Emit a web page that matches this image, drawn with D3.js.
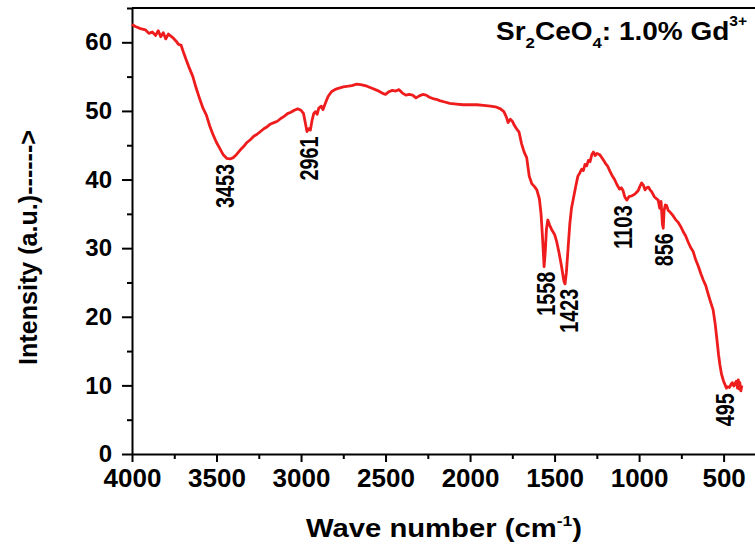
<!DOCTYPE html>
<html>
<head>
<meta charset="utf-8">
<script src="https://cdn.jsdelivr.net/npm/d3@7"></script>
<style>
  body { margin: 0; background: #fff; }
  svg { display: block; font-family: "Liberation Sans", Arial, sans-serif; font-weight: bold; }
  .tick text { font-family: "Liberation Sans", Arial, sans-serif; font-weight: bold; }
</style>
</head>
<body>
<svg width="755" height="545"></svg>
<script>
// FTIR spectrum
const waveNumber = [4000, 3980, 3950, 3920, 3900, 3880, 3860, 3845, 3830, 3815, 3800, 3785, 3770, 3755, 3740, 3725, 3710, 3695, 3680, 3660,
  3640, 3620, 3600, 3580, 3560, 3540, 3520, 3500, 3480, 3460, 3440, 3420, 3400, 3380, 3360, 3340, 3320, 3300, 3280, 3260,
  3240, 3220, 3200, 3180, 3160, 3140, 3120, 3100, 3080, 3060, 3040, 3020, 3000, 2985, 2975, 2965, 2955, 2945, 2935, 2925,
  2915, 2905, 2895, 2880, 2870, 2855, 2840, 2820, 2800, 2780, 2750, 2720, 2700, 2670, 2640, 2610, 2580, 2550, 2520, 2500,
  2480, 2460, 2440, 2420, 2400, 2380, 2360, 2340, 2320, 2300, 2280, 2260, 2240, 2220, 2200, 2180, 2150, 2120, 2080, 2040,
  2000, 1960, 1920, 1880, 1850, 1820, 1800, 1785, 1775, 1762, 1750, 1740, 1725, 1710, 1695, 1680, 1665, 1650, 1635, 1620,
  1605, 1590, 1580, 1570, 1562, 1555, 1548, 1540, 1530, 1515, 1500, 1488, 1475, 1460, 1445, 1438, 1430, 1420, 1410, 1400,
  1389, 1375, 1362, 1350, 1340, 1330, 1320, 1310, 1300, 1290, 1280, 1270, 1260, 1250, 1240, 1232, 1215, 1200, 1185, 1172,
  1160, 1145, 1130, 1115, 1105, 1095, 1085, 1073, 1060, 1045, 1030, 1020, 1005, 995, 985, 975, 965, 955, 945, 935,
  925, 910, 897, 887, 878, 870, 862, 857, 852, 845, 837, 828, 818, 808, 798, 785, 770, 755, 739, 725,
  710, 695, 680, 665, 650, 635, 621, 605, 590, 575, 562, 550, 540, 530, 522, 512, 500, 490, 483, 475,
  465, 455, 448, 440, 432, 425, 418, 413, 408, 404, 398, 392]
const intensity = [62.6, 62.3, 62.0, 61.8, 61.3, 61.5, 61.0, 61.7, 60.8, 61.4, 60.5, 61.2, 60.9, 60.6, 60.2, 59.7, 59.6, 58.5, 57.5, 56.2,
  55.0, 53.3, 51.8, 50.4, 49.4, 47.8, 46.5, 45.4, 44.5, 43.6, 43.1, 43.0, 43.2, 43.7, 44.3, 44.8, 45.4, 45.8, 46.3, 46.6,
  47.0, 47.4, 47.7, 48.1, 48.3, 48.5, 48.9, 49.2, 49.6, 49.8, 50.1, 50.3, 50.1, 49.6, 48.3, 47.0, 47.4, 47.2, 48.6, 49.6,
  49.9, 49.5, 50.4, 50.7, 50.2, 51.2, 52.1, 52.8, 53.1, 53.3, 53.5, 53.6, 53.7, 53.9, 53.8, 53.6, 53.3, 53.0, 52.6, 52.4,
  52.8, 53.0, 52.9, 53.1, 52.6, 52.3, 52.4, 52.3, 51.9, 52.2, 52.4, 52.3, 52.0, 51.8, 51.7, 51.5, 51.3, 51.1, 51.0, 50.9,
  50.9, 50.9, 50.8, 50.7, 50.6, 50.3, 49.9, 49.1, 48.3, 48.8, 48.5, 48.0, 47.4, 46.9, 45.2, 44.0, 43.2, 40.5, 39.4, 39.0,
  38.5, 37.2, 35.0, 31.0, 27.3, 29.5, 32.8, 34.1, 33.4, 32.6, 32.0, 31.0, 29.5, 27.5, 25.2, 24.8, 26.5, 30.0, 33.5, 35.8,
  37.2, 39.0, 40.5, 41.0, 41.5, 41.3, 42.2, 42.0, 42.8, 42.6, 43.6, 44.0, 43.5, 43.8, 43.7, 43.6, 43.0, 42.4, 41.9, 41.2,
  40.6, 40.0, 39.2, 38.6, 38.8, 38.4, 37.5, 37.0, 37.5, 37.6, 37.8, 38.0, 38.4, 39.0, 39.5, 39.2, 38.5, 38.8, 38.9, 38.5,
  38.2, 37.5, 37.2, 37.0, 35.8, 36.8, 33.5, 32.9, 35.5, 36.3, 36.2, 35.5, 35.3, 35.0, 34.7, 34.2, 33.8, 33.2, 32.4, 31.8,
  30.9, 30.1, 29.5, 28.3, 27.4, 26.3, 25.4, 24.5, 23.2, 22.0, 21.0, 19.0, 16.8, 14.5, 13.0, 11.6, 10.6, 10.0, 9.6, 9.8,
  9.7, 10.2, 10.4, 9.9, 10.3, 10.6, 9.6, 10.8, 9.5, 10.4, 9.2, 10.0]

const peakLabels = ["3453", "2961", "1558", "1423", "1103", "856", "495"]
const peakAt = [3453, 2961, 1558, 1423, 1103, 856, 495]
const peakTop = [43.0, 47.0, 27.3, 24.8, 37.0, 32.9, 9.6] // value under each label

const xTicks = [4000, 3500, 3000, 2500, 2000, 1500, 1000, 500]
const yTicks = [0, 10, 20, 30, 40, 50, 60]

const margin = { left: 132, top: 8 }
const height = 446
const pxPerUnit = 0.16903
const xMax = 4000, xMin = 300, yMax = 65

const svg = d3.select('svg')
const chart = svg.append('g')
  .attr('transform', `translate(${margin.left}, ${margin.top})`)

const xScale = d3.scaleLinear()
  .domain([xMax, xMin])
  .range([0, (xMax - xMin) * pxPerUnit])

const yScale = d3.scaleLinear()
  .domain([0, yMax])
  .range([height, 0])

const width = xScale.range()[1]

// frame top
chart.append('line')
  .attr('x1', 0).attr('x2', width)
  .attr('y1', 0).attr('y2', 0)
  .attr('stroke', '#000').attr('stroke-width', 2)

// minor ticks
chart.append('g')
  .attr('transform', `translate(0, ${height})`)
  .call(d3.axisBottom(xScale).tickValues(d3.range(3750, 0, -500)).tickSize(5).tickFormat(''))
  .call(g => g.select('.domain').remove())
chart.append('g')
  .call(d3.axisLeft(yScale).tickValues(d3.range(5, 66, 10)).tickSize(5).tickFormat(''))
  .call(g => g.select('.domain').remove())

const xAxis = chart.append('g')
  .attr('transform', `translate(0, ${height})`)
  .call(d3.axisBottom(xScale).tickValues(xTicks).tickFormat(d3.format('d'))
    .tickSize(8).tickSizeOuter(0).tickPadding(7))
xAxis.selectAll('text').style('font-size', '26px').attr('fill', '#000')

const yAxis = chart.append('g')
  .call(d3.axisLeft(yScale).tickValues(yTicks).tickSize(10).tickSizeOuter(0).tickPadding(10))
yAxis.selectAll('text').style('font-size', '24px').attr('fill', '#000')

chart.selectAll('.tick line').attr('stroke-width', 2)
chart.selectAll('.domain').attr('stroke-width', 2)

// spectrum
const points = waveNumber.map((w, i) => [w, intensity[i]])
chart.append('path')
  .datum(points)
  .attr('fill', 'none')
  .attr('stroke', '#ee1c1c')
  .attr('stroke-width', 2.8)
  .attr('stroke-linejoin', 'round')
  .attr('d', d3.line().x(d => xScale(d[0])).y(d => yScale(d[1])))

// peak labels, rotated (glyphs look condensed in the picture)
chart.selectAll('.peak')
  .data(peakLabels)
  .enter()
  .append('text')
  .attr('class', 'peak')
  .attr('transform', (d, i) => `translate(${xScale(peakAt[i]) + 10}, ${yScale(peakTop[i]) + 5}) rotate(-90)`)
  .attr('text-anchor', 'end')
  .attr('textLength', d => d.length * 11)
  .attr('lengthAdjust', 'spacingAndGlyphs')
  .style('font-size', '25px')
  .text(d => d)

// axis titles
const xTitle = svg.append('text')
  .attr('transform', 'translate(444, 537) scale(1.17, 1)')
  .attr('text-anchor', 'middle')
  .style('font-size', '25px')
xTitle.append('tspan').text('Wave number (cm')
xTitle.append('tspan').attr('dy', -11).style('font-size', '15px').text('-1')
xTitle.append('tspan').attr('dy', 11).text(')')

svg.append('text')
  .attr('transform', 'translate(37, 365) rotate(-90)')
  .attr('text-anchor', 'start')
  .attr('textLength', 235)
  .attr('lengthAdjust', 'spacingAndGlyphs')
  .style('font-size', '25px')
  .text('Intensity (a.u.)------>')

// sample title
const title = svg.append('text')
  .attr('transform', 'translate(496, 40) scale(1.12, 1)')
  .style('font-size', '25px')
title.append('tspan').text('Sr')
title.append('tspan').attr('dy', 8).style('font-size', '15px').text('2')
title.append('tspan').attr('dy', -8).text('CeO')
title.append('tspan').attr('dy', 8).style('font-size', '15px').text('4')
title.append('tspan').attr('dy', -8).text(': 1.0% Gd')
title.append('tspan').attr('dy', -14).style('font-size', '14px').text('3+')
</script>
</body>
</html>
